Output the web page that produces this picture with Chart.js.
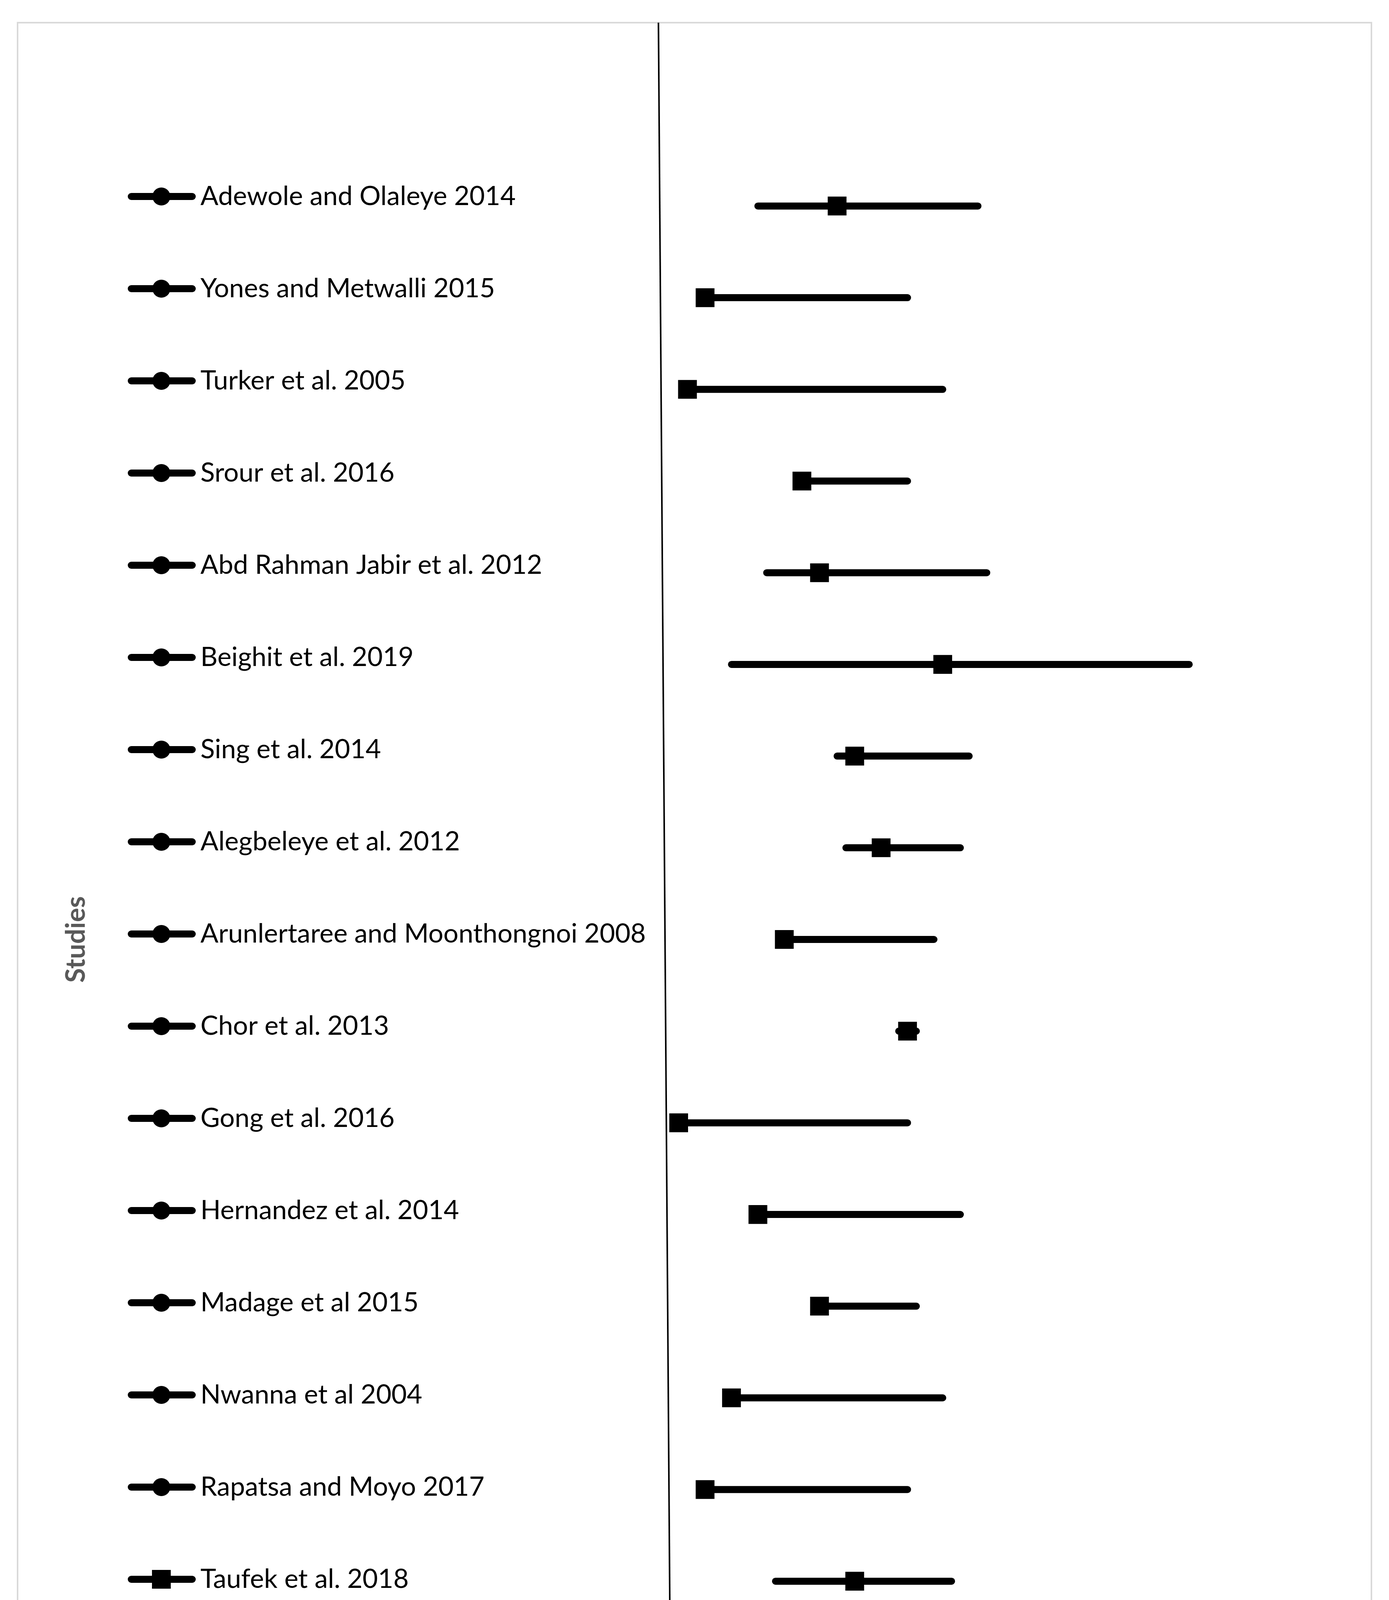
<!DOCTYPE html>
<html>
<head>
<meta charset="utf-8">
<title>Forest plot</title>
<script src="https://cdn.jsdelivr.net/npm/chart.js@4.4.0/dist/chart.umd.min.js"></script>
<style>
  html, body { margin: 0; padding: 0; background: #fff; }
  canvas { display: block; }
</style>
</head>
<body>
<canvas id="forestPlot" width="3555" height="5112"></canvas>
<script>
// studies, top to bottom
const studies = [
    'Adewole and Olaleye 2014',
    'Yones and Metwalli 2015',
    'Turker et al. 2005',
    'Srour et al. 2016',
    'Abd Rahman Jabir et al. 2012',
    'Beighit et al. 2019',
    'Sing et al. 2014',
    'Alegbeleye et al. 2012',
    'Arunlertaree and Moonthongnoi 2008',
    'Chor et al. 2013',
    'Gong et al. 2016',
    'Hernandez et al. 2014',
    'Madage et al 2015',
    'Nwanna et al 2004',
    'Rapatsa and Moyo 2017',
    'Taufek et al. 2018',
    'Yu et al. 2015'
];
const legendShapes = ['circle', 'circle', 'circle', 'circle', 'circle', 'circle', 'circle', 'circle',
    'circle', 'circle', 'circle', 'circle', 'circle', 'circle', 'circle', 'rect', 'rect'];

const effect = [18, 3, 1, 14, 16, 30, 20, 23, 12, 26, 0, 9, 16, 6, 3, 20, 9];
const ciLow  = [9, 3, 1, 14, 10, 6, 18, 19, 12, 25, 0, 9, 16, 6, 3, 11, 9];
const ciHigh = [34, 26, 30, 26, 35, 58, 33, 32, 29, 27, 26, 32, 27, 30, 26, 31, 26];

const summaryLabel = 'Effect summary';
const summaryEffect = 21;

const xTicks = [-70, -60, -50, -40, -30, -20, -10, 0, 10, 20, 30, 40, 50, 60, 70];

// the (slightly slanted) no-effect line
const refLineX = [-2.3, -0.8];
const refLineY = [-1, 19];

const FONT = 'Lato';

document.addEventListener('DOMContentLoaded', () => {
    const ctx = document.getElementById('forestPlot').getContext('2d');

    const ciPoints = [];
    studies.forEach((s, i) => {
        ciPoints.push({ x: ciLow[i], y: i + 1 });
        ciPoints.push({ x: ciHigh[i], y: i + 1 });
        ciPoints.push({ x: ciHigh[i], y: null });
    });
    const effectPoints = effect.map((v, i) => ({ x: v, y: i + 1 }));

    // frame, legend column and "Studies" label
    const decor = {
        id: 'decor',
        beforeDraw(chart) {
            const c = chart.ctx;
            c.save();
            c.strokeStyle = '#d9d9d9';
            c.lineWidth = 4;
            c.strokeRect(45, 58, 3465, 5001);
            c.restore();
        },
        afterDraw(chart) {
            const c = chart.ctx;
            const area = chart.chartArea;
            const legendTop = area.top + 445;
            const legendStep = 236;
            c.save();
            c.fillStyle = '#000';
            c.strokeStyle = '#000';
            c.font = '68px ' + FONT;
            c.textBaseline = 'middle';
            studies.forEach((name, i) => {
                const y = legendTop + i * legendStep;
                c.lineWidth = 18;
                c.lineCap = 'round';
                c.beginPath();
                c.moveTo(336, y);
                c.lineTo(492, y);
                c.stroke();
                const sq = legendShapes[i] === 'rect';
                Chart.helpers.drawPoint(c, { pointStyle: legendShapes[i], radius: sq ? 34 : 23, borderWidth: 0, rotation: 0 }, 413, y);
                c.fillText(name, 513, y);
            });
            const ys = legendTop + studies.length * legendStep;
            Chart.helpers.drawPoint(c, { pointStyle: 'circle', radius: 23, borderWidth: 0, rotation: 0 }, 413, ys);
            c.fillText(summaryLabel, 530, ys);

            c.translate(195, (area.top + area.bottom) / 2);
            c.rotate(-Math.PI / 2);
            c.font = 'bold 68px ' + FONT;
            c.fillStyle = '#595959';
            c.textAlign = 'center';
            c.fillText('Studies', 0, 0);
            c.restore();
        }
    };

    new Chart(ctx, {
        data: {
            datasets: [{
                type: 'scatter',
                label: 'Effect',
                data: effectPoints,
                pointStyle: 'rect',
                pointRadius: 34,
                pointBorderWidth: 0,
                backgroundColor: '#000',
                order: 0
            }, {
                type: 'scatter',
                label: summaryLabel,
                data: [{ x: summaryEffect, y: studies.length + 1 }],
                pointStyle: 'rectRot',
                pointRadius: 24,
                pointBorderWidth: 0,
                backgroundColor: '#000',
                order: 0
            }, {
                type: 'line',
                label: 'CI',
                data: ciPoints,
                borderColor: '#000',
                borderWidth: 18,
                borderCapStyle: 'round',
                pointRadius: 0,
                spanGaps: false,
                order: 1
            }, {
                type: 'line',
                label: 'No effect',
                data: refLineX.map((x, i) => ({ x: x, y: refLineY[i] })),
                borderColor: '#000',
                borderWidth: 4,
                pointRadius: 0,
                order: 2
            }]
        },
        options: {
            responsive: false,
            animation: false,
            devicePixelRatio: 1,
            layout: { padding: { left: 160, right: 241, top: 58, bottom: 0 } },
            plugins: { legend: { display: false }, tooltip: { enabled: false } },
            scales: {
                x: {
                    type: 'linear',
                    min: -70,
                    max: 70,
                    afterBuildTicks: (s) => { s.ticks = xTicks.map(v => ({ value: v })); },
                    afterFit: (s) => { s.height = 360; },
                    grid: { display: false, drawTicks: false },
                    border: { display: true, color: '#000', width: 7 },
                    ticks: { color: '#000', padding: 59, font: { family: FONT, size: 68 } },
                    title: {
                        display: true,
                        text: 'Effect size',
                        color: '#595959',
                        font: { family: FONT, size: 70, weight: 'bold' },
                        padding: { top: 0, bottom: 97 }
                    }
                },
                y: {
                    type: 'linear',
                    display: false,
                    reverse: true,
                    min: -1,
                    max: 19
                }
            }
        },
        plugins: [decor]
    });
});
</script>
</body>
</html>
